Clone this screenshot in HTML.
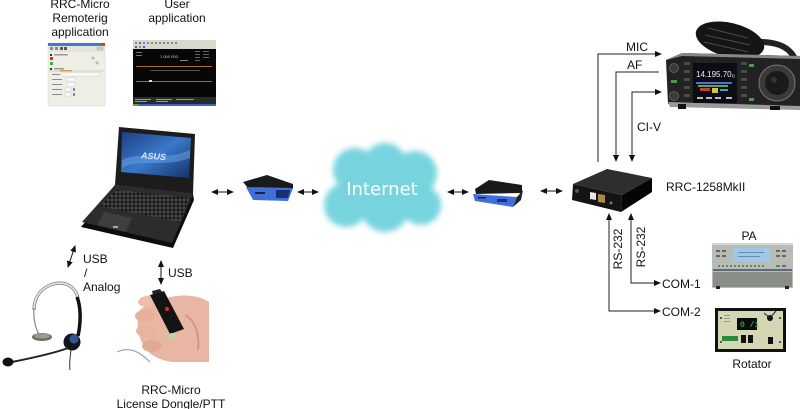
<!DOCTYPE html>
<html><head><meta charset="utf-8"><style>
html,body{margin:0;padding:0;background:#fff;}
svg{display:block;}
text{font-family:"Liberation Sans",Arial,sans-serif;font-size:12px;fill:#111;}
</style></head><body>
<svg width="800" height="409" viewBox="0 0 800 409" xmlns="http://www.w3.org/2000/svg">
<defs>
<marker id="ah" markerWidth="7" markerHeight="6" refX="6" refY="3" orient="auto-start-reverse" markerUnits="userSpaceOnUse"><path d="M0,0 L7,3 L0,6z" fill="#111"/></marker>
<filter id="blur" x="-20%" y="-20%" width="140%" height="140%"><feGaussianBlur stdDeviation="3"/></filter>
<linearGradient id="scr" x1="0" y1="0" x2="1" y2="1"><stop offset="0" stop-color="#1d3f86"/><stop offset="0.5" stop-color="#3a78c8"/><stop offset="1" stop-color="#13306a"/></linearGradient>
<pattern id="keys" width="4" height="4" patternUnits="userSpaceOnUse"><rect width="4" height="4" fill="#555"/><rect x="0.5" y="0.5" width="3" height="3" fill="#141414"/></pattern>
</defs>
<rect width="800" height="409" fill="#fff"/>

<!-- top-left labels -->
<text x="80" y="8" text-anchor="middle">RRC-Micro</text>
<text x="80" y="22" text-anchor="middle">Remoterig</text>
<text x="80" y="36" text-anchor="middle">application</text>
<text x="177" y="8" text-anchor="middle">User</text>
<text x="177" y="22" text-anchor="middle">application</text>

<!-- screenshot 1 -->
<g>
<rect x="48" y="43" width="57" height="63" fill="#eeeee4" stroke="#d4d4cc" stroke-width="0.5"/>
<rect x="48" y="43" width="57" height="3" fill="#4a74d0"/>
<rect x="101" y="43" width="4" height="3" fill="#d04030"/>
<rect x="48" y="46" width="57" height="6" fill="#e4e4da"/>
<rect x="50" y="47" width="3" height="3" fill="#889"/><rect x="55" y="47" width="3" height="3" fill="#889"/><rect x="60" y="47" width="3" height="3" fill="#555"/><rect x="64" y="47" width="3" height="3" fill="#555"/>
<rect x="97" y="47" width="6" height="3" fill="#ccc" stroke="#999" stroke-width="0.3"/>
<rect x="50" y="54" width="2" height="2" fill="#333"/><rect x="54" y="54" width="14" height="1.5" fill="#99a"/>
<rect x="50" y="57" width="3" height="3" fill="#d03030"/>
<rect x="50" y="62" width="3" height="3" fill="#40b040"/>
<circle cx="93" cy="58" r="1.5" fill="#9c9"/><circle cx="97" cy="63" r="1.5" fill="#9c9"/>
<rect x="50" y="68" width="2" height="2" fill="#333"/><rect x="54" y="68" width="10" height="1.5" fill="#99a"/>
<rect x="49" y="70" width="55" height="2" fill="#e0e0d4"/><rect x="60" y="70" width="12" height="1.5" fill="#e0a040"/>
<rect x="52" y="74" width="8" height="1" fill="#889"/><rect x="62" y="73" width="38" height="3" fill="#fff" stroke="#aab" stroke-width="0.3"/>
<rect x="52" y="79" width="10" height="1" fill="#889"/><rect x="67" y="78" width="8" height="3" fill="#fff" stroke="#aab" stroke-width="0.3"/>
<rect x="52" y="84" width="10" height="1" fill="#889"/><rect x="67" y="83" width="8" height="3" fill="#fff" stroke="#aab" stroke-width="0.3"/>
<rect x="52" y="89" width="10" height="1" fill="#889"/><rect x="65" y="88" width="6" height="3" fill="#fff" stroke="#aab" stroke-width="0.3"/><rect x="73" y="88" width="2" height="3" fill="#88a"/>
<rect x="52" y="94" width="10" height="1" fill="#889"/><rect x="65" y="93" width="6" height="3" fill="#fff" stroke="#aab" stroke-width="0.3"/><rect x="73" y="93" width="2" height="3" fill="#88a"/>
</g>

<!-- screenshot 2 -->
<g>
<rect x="133" y="40" width="83" height="66" fill="#070707"/>
<rect x="133" y="40" width="83" height="9" fill="#d8d8cc"/>
<g fill="#7a8aa0"><rect x="135" y="42" width="2" height="2"/><rect x="139" y="42" width="2" height="2" fill="#c04080"/><rect x="143" y="42" width="2" height="2"/><rect x="147" y="42" width="2" height="2"/><rect x="151" y="42" width="2" height="2" fill="#c08040"/><rect x="155" y="42" width="2" height="2"/><rect x="159" y="42" width="2" height="2"/><rect x="163" y="42" width="2" height="2" fill="#c06070"/><rect x="167" y="42" width="2" height="2"/><rect x="171" y="42" width="2" height="2"/><rect x="175" y="42" width="2" height="2" fill="#6090c0"/><rect x="135" y="46" width="2" height="2" fill="#4060c0"/><rect x="139" y="46" width="2" height="2"/><rect x="143" y="46" width="2" height="2" fill="#4060c0"/></g>
<rect x="136" y="52" width="6" height="1" fill="#777"/><rect x="136" y="55" width="6" height="1" fill="#777"/>
<text x="160" y="58" style="font-size:4px;fill:#ccc">1 000 000</text>
<rect x="180" y="60" width="8" height="1" fill="#888"/>
<g fill="#666"><rect x="195" y="51" width="5" height="1"/><rect x="203" y="51" width="6" height="1"/><rect x="195" y="54" width="5" height="1"/><rect x="203" y="54" width="6" height="1"/><rect x="195" y="57" width="5" height="1"/><rect x="203" y="57" width="6" height="1"/><rect x="195" y="60" width="5" height="1"/></g>
<rect x="136" y="66" width="76" height="1" fill="#b06a20"/>
<rect x="150" y="70" width="50" height="0.7" fill="#777"/>
<rect x="136" y="81" width="76" height="1" fill="#b06a20"/>
<rect x="149" y="80" width="3" height="2" fill="#ddd"/>
<rect x="133" y="97" width="83" height="7" fill="#2a2a2a"/>
<g fill="#999"><rect x="135" y="99" width="16" height="1"/><rect x="156" y="99" width="16" height="1"/><rect x="176" y="99" width="18" height="1"/><rect x="135" y="101" width="12" height="1"/><rect x="156" y="101" width="12" height="1"/></g>
<rect x="133" y="104" width="83" height="2" fill="#3a62c8"/><rect x="133" y="104" width="6" height="2" fill="#40b040"/>
</g>

<!-- laptop -->
<g>
<polygon points="119,127 195,134 193,194 115,185" fill="#1c1c1c"/>
<polygon points="122,132 191,138 189,178 121,172" fill="url(#scr)"/>
<path d="M122,160 C140,150 165,162 190,150 L190,158 C165,168 140,158 122,168z" fill="#6aa6e6" opacity="0.5"/>
<text x="141" y="159" style="font-size:9px;font-weight:bold;font-style:italic;fill:#d8e8ff" transform="rotate(4 150 156)">ASUS</text>
<polygon points="115,185 193,194 194,200 173,248 81,227" fill="#0d0d0d"/>
<polygon points="115,185 193,194 172,243 82,222" fill="#2c2c2c"/>
<polygon points="117,190 190,198 180,222 100,206" fill="url(#keys)"/>
<polygon points="104,212 132,218 126,232 97,225" fill="#3e3e3e"/>
<rect x="113" y="226" width="5" height="2" fill="#aa8"/>
</g>

<!-- double arrows -->
<g stroke="#111" stroke-width="1" fill="none">
<line x1="212" y1="192" x2="233" y2="192" marker-start="url(#ah)" marker-end="url(#ah)"/>
<line x1="298" y1="192" x2="318" y2="192" marker-start="url(#ah)" marker-end="url(#ah)"/>
<line x1="448" y1="192" x2="468" y2="192" marker-start="url(#ah)" marker-end="url(#ah)"/>
<line x1="541" y1="191" x2="562" y2="191" marker-start="url(#ah)" marker-end="url(#ah)"/>
</g>

<!-- router 1 -->
<g>
<polygon points="243,182 267,175 293,184 293,189 248,188" fill="#1a1a1a"/>
<polygon points="246,187 293,188 288,201 253,200" fill="#3f6fdc"/>
<polygon points="276,190 290,190 288,198 276,198" fill="#1b2f70"/>
<rect x="255" y="192" width="10" height="2" fill="#223"/>
</g>

<!-- cloud -->
<g filter="url(#blur)" fill="#77d4de">
<circle cx="355" cy="170" r="22"/><circle cx="385" cy="165" r="22"/><circle cx="415" cy="173" r="22"/>
<circle cx="346" cy="205" r="22"/><circle cx="385" cy="208" r="24"/><circle cx="421" cy="205" r="20"/>
<circle cx="383" cy="190" r="35"/>
</g>
<text x="382" y="195" text-anchor="middle" style="font-family:'DejaVu Sans',sans-serif;font-size:18px;fill:#fff">Internet</text>

<!-- router 2 -->
<g>
<polygon points="475,189 489,180 522,185 522,193 476,194" fill="#1a1a1a"/>
<polygon points="473,194 517,197 513,207 475,201" fill="#3f6fdc"/>
<polygon points="517,197 523,190 521,200 513,207" fill="#222"/>
<rect x="497" y="199" width="10" height="3" fill="#1b2f70"/>
<rect x="478" y="197" width="8" height="1.5" fill="#223"/>
</g>

<!-- RRC box -->
<g>
<polygon points="573,184 607,169 652,178 622,195" fill="#2e2e2e"/>
<polygon points="573,184 622,195 621,212 572,200" fill="#141414"/>
<polygon points="622,195 652,178 652,192 621,212" fill="#050505"/>
<polygon points="590,192 596,193 596,200 590,199" fill="#e8e8e8"/>
<polygon points="598,194 605,195 605,203 598,202" fill="#b08a40"/>
<circle cx="577" cy="191" r="2" fill="#555"/>
<circle cx="611" cy="203" r="1.5" fill="#776"/>
</g>
<text x="666" y="191">RRC-1258MkII</text>

<!-- radio -->
<g>
<path d="M760,42 C788,42 800,56 797,78" stroke="#222" stroke-width="6" fill="none"/>
<ellipse cx="730" cy="40" rx="35" ry="17" transform="rotate(14 730 40)" fill="#151515"/>
<g stroke="#4a4a4a" stroke-width="1"><line x1="708" y1="28" x2="748" y2="38"/><line x1="705" y1="35" x2="750" y2="45"/><line x1="704" y1="42" x2="748" y2="52"/></g>
<polygon points="666,60 682,53 800,56 800,108 668,104" fill="#222"/>
<polygon points="666,60 682,53 800,56 800,59 682,56" fill="#888"/>
<polygon points="668,102 800,106 800,110 670,107" fill="#9a9a9a"/>
<rect x="678" y="104" width="8" height="5" fill="#111"/><rect x="770" y="106" width="10" height="4" fill="#111"/>
<circle cx="674" cy="68" r="4.5" fill="#3a3a3a" stroke="#666" stroke-width="0.8"/>
<circle cx="674" cy="96" r="4.5" fill="#3a3a3a" stroke="#666" stroke-width="0.8"/>
<rect x="671" y="80" width="6" height="3" fill="#4c9c4c"/>
<g fill="#4a4a4a"><rect x="684" y="62" width="6" height="3"/><rect x="684" y="70" width="6" height="3"/><rect x="684" y="78" width="6" height="3"/><rect x="684" y="86" width="6" height="3"/><rect x="684" y="94" width="6" height="3"/>
<rect x="741" y="62" width="6" height="3"/><rect x="741" y="70" width="6" height="3"/><rect x="741" y="78" width="6" height="3"/><rect x="741" y="86" width="6" height="3"/><rect x="741" y="94" width="6" height="3"/></g>
<rect x="693" y="63" width="44" height="40" fill="#0c0c14"/>
<text x="696" y="77" style="font-size:8px;fill:#eee">14.195.70₀</text>
<rect x="696" y="82" width="36" height="2" fill="#5070d0"/>
<rect x="698" y="85" width="30" height="2" fill="#50b050"/>
<rect x="700" y="88" width="10" height="3" fill="#c04040"/><rect x="712" y="88" width="6" height="5" fill="#e0c040"/><rect x="720" y="89" width="8" height="2" fill="#40a0c0"/>
<g fill="#bbb"><rect x="697" y="97" width="6" height="2"/><rect x="706" y="97" width="6" height="2"/><rect x="715" y="97" width="6" height="2"/><rect x="726" y="97" width="6" height="2"/></g>
<rect x="749" y="64" width="5" height="3" fill="#4c9c4c"/><rect x="749" y="98" width="5" height="3" fill="#4c9c4c"/>
<circle cx="777" cy="83" r="18" fill="#3a3a3a" stroke="#777" stroke-width="1"/>
<circle cx="777" cy="83" r="12" fill="#1a1a1a"/>
<circle cx="774" cy="80" r="3" fill="#333"/>
</g>

<!-- radio connectors -->
<g stroke="#222" stroke-width="1" fill="none">
<path d="M598,162 V54 H661" marker-end="url(#ah)"/>
<path d="M659,72 H616 V161" marker-end="url(#ah)"/>
<path d="M632,161 V92 H661" marker-start="url(#ah)" marker-end="url(#ah)"/>
<path d="M609,214 V311 H660" marker-start="url(#ah)" marker-end="url(#ah)"/>
<path d="M631,214 V283 H660" marker-start="url(#ah)" marker-end="url(#ah)"/>
</g>
<text x="626" y="51">MIC</text>
<text x="627" y="69">AF</text>
<text x="637" y="131">CI-V</text>
<text transform="translate(622,249) rotate(-90)" text-anchor="middle">RS-232</text>
<text transform="translate(645,247) rotate(-90)" text-anchor="middle">RS-232</text>
<text x="662" y="288">COM-1</text>
<text x="662" y="316">COM-2</text>

<!-- PA -->
<text x="749" y="240" text-anchor="middle">PA</text>
<g>
<rect x="712" y="243" width="81" height="45" fill="#b8bcb6"/>
<rect x="712" y="243" width="81" height="2" fill="#d6d8d2"/>
<rect x="733" y="248" width="37" height="14" fill="#9ec8e8"/>
<rect x="738" y="252" width="26" height="1" fill="#6a8aa8"/><rect x="738" y="256" width="22" height="1" fill="#6a8aa8"/>
<g fill="#666"><rect x="716" y="250" width="4" height="2"/><rect x="722" y="250" width="4" height="2"/><rect x="716" y="255" width="4" height="2"/><rect x="722" y="255" width="4" height="2"/><rect x="776" y="250" width="4" height="2"/><rect x="782" y="250" width="4" height="2"/><rect x="776" y="255" width="4" height="2"/><rect x="782" y="255" width="4" height="2"/></g>
<g fill="#777"><rect x="718" y="265" width="2" height="2"/><rect x="722" y="265" width="2" height="2"/><rect x="726" y="265" width="2" height="2"/><rect x="730" y="265" width="2" height="2"/><rect x="734" y="265" width="2" height="2"/><rect x="738" y="265" width="2" height="2"/><rect x="742" y="265" width="2" height="2"/><rect x="746" y="265" width="2" height="2"/><rect x="750" y="265" width="2" height="2"/><rect x="754" y="265" width="2" height="2"/><rect x="758" y="265" width="2" height="2"/><rect x="762" y="265" width="2" height="2"/></g>
<rect x="776" y="265" width="4" height="2" fill="#3a9a4a"/><rect x="782" y="265" width="4" height="2" fill="#a04a8a"/>
<rect x="713" y="269" width="79" height="2" fill="#5a6a7a"/>
<rect x="713" y="272" width="79" height="15" fill="#8a8c88"/>
<rect x="716" y="286" width="4" height="3" fill="#222"/><rect x="785" y="286" width="4" height="3" fill="#222"/>
</g>

<!-- Rotator -->
<g>
<rect x="715" y="308" width="71" height="44" fill="#111"/>
<rect x="718" y="311" width="65" height="38" fill="#d4d6b4"/>
<rect x="737" y="318" width="20" height="12" fill="#0a0a0a"/>
<text x="740" y="327" style="font-size:8px;fill:#3ad060;font-family:'Liberation Mono',monospace">0 /1</text>
<circle cx="770" cy="318" r="3" fill="#111"/><path d="M770,318 L776,311 M770,318 L764,313" stroke="#222" stroke-width="1"/>
<rect x="722" y="336" width="16" height="5" fill="#2a8a3a"/>
<rect x="741" y="335" width="5" height="8" fill="#111"/><rect x="748" y="335" width="5" height="8" fill="#111"/>
<rect x="768" y="337" width="5" height="7" fill="#111"/>
<circle cx="721" cy="318" r="1" fill="#333"/><circle cx="780" cy="318" r="1" fill="#333"/><circle cx="721" cy="342" r="1" fill="#333"/><circle cx="780" cy="342" r="1" fill="#333"/>
<g fill="#999"><rect x="724" y="315" width="6" height="1"/><rect x="724" y="318" width="6" height="1"/><rect x="724" y="321" width="6" height="1"/></g>
</g>
<text x="752" y="368" text-anchor="middle">Rotator</text>

<!-- headset -->
<g>
<path d="M34,310 C34,290 52,280 66,284 C74,287 78,294 78,300" stroke="#777" stroke-width="3.2" fill="none"/>
<path d="M34,310 C34,290 52,280 66,284 C74,287 78,294 78,300" stroke="#e4e4e4" stroke-width="1.8" fill="none"/>
<path d="M34,308 C33,320 36,330 40,336" stroke="#888" stroke-width="1.2" fill="none"/>
<path d="M77,297 C81,307 81,322 78,336" stroke="#111" stroke-width="3.5" fill="none"/>
<ellipse cx="42" cy="337" rx="10" ry="4" fill="#6c6c64"/>
<ellipse cx="42" cy="336" rx="8" ry="2.5" fill="#9a9a90"/>
<circle cx="72" cy="342" r="8.5" fill="#161620"/>
<circle cx="74" cy="339" r="4.5" fill="#34549a"/>
<path d="M68,348 C55,353 32,358 12,362" stroke="#222" stroke-width="2" fill="none"/>
<ellipse cx="8" cy="362" rx="5.5" ry="4.5" fill="#111"/>
<path d="M71,350 C70,358 69,364 70,370" stroke="#333" stroke-width="1" fill="none"/>
</g>

<!-- dongle / hand -->
<g>
<path d="M117,352 C130,346 140,352 150,362" stroke="#8899aa" stroke-width="1" fill="none"/>
<path d="M166,298 C185,293 200,296 209,302 L209,362 L172,362 C160,360 150,356 144,346 C137,335 136,318 140,310 C148,303 158,300 166,298z" fill="#e8b6a2"/>
<ellipse cx="148" cy="301" rx="10" ry="5.5" fill="#eebcaa" transform="rotate(-10 148 301)"/>
<ellipse cx="145" cy="316" rx="10" ry="6" fill="#e6b09c"/>
<ellipse cx="146" cy="331" rx="10" ry="6" fill="#e8b4a0"/>
<ellipse cx="152" cy="346" rx="10" ry="6" fill="#e2aa96"/>
<path d="M185,315 C195,320 200,335 198,350" stroke="#d09884" stroke-width="2" fill="none"/>
<polygon points="150,295 164,291 184,329 170,334" fill="#141414"/>
<polygon points="152,291 160,289 162,292 153,295" fill="#222"/>
<circle cx="167" cy="309" r="2" fill="#e03020"/>
<ellipse cx="172" cy="336" rx="4" ry="3" fill="#b8d8a0"/>
</g>

<!-- USB / Analog -->
<g stroke="#111" stroke-width="1" fill="none">
<line x1="68" y1="267" x2="75" y2="246" marker-start="url(#ah)" marker-end="url(#ah)"/>
<line x1="161" y1="261" x2="161" y2="284" marker-start="url(#ah)" marker-end="url(#ah)"/>
</g>
<text x="83" y="263">USB</text>
<text x="84" y="277">/</text>
<text x="83" y="291">Analog</text>
<text x="168" y="277">USB</text>

<text x="171" y="394" text-anchor="middle">RRC-Micro</text>
<text x="171" y="408" text-anchor="middle">License Dongle/PTT</text>
</svg>
</body></html>
